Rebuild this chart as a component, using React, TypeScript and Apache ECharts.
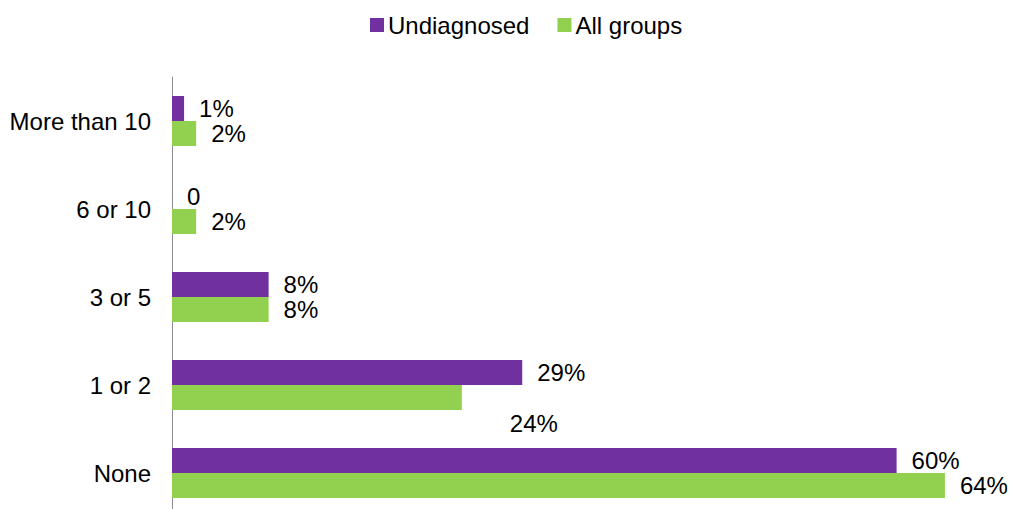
import React, { useEffect, useRef } from "react";
import * as echarts from "echarts";

const categories = ["More than 10", "6 or 10", "3 or 5", "1 or 2", "None"];
const undiagnosed = [1, 0, 8, 29, 60];
const allGroups = [2, 2, 8, 24, 64];
const seriesNames = ["Undiagnosed", "All groups"];

const FONT = "'Liberation Sans', Arial, sans-serif";
const FS = 24;

export default function App() {
  const ref = useRef<HTMLDivElement>(null);
  useEffect(() => {
    if (!ref.current) return;
    const chart = echarts.init(ref.current, undefined, { renderer: "svg" });
    const fmt = (p: any) => (p.value === 0 ? "0" : p.value + "%");
    const labelBase = {
      show: true,
      position: "right",
      distance: 15,
      formatter: fmt,
      color: "#000",
      fontSize: FS,
      fontFamily: FONT,
    };
    chart.setOption({
      animation: false,
      textStyle: { fontFamily: FONT },
      legend: {
        data: seriesNames,
        top: 8,
        left: 365,
        itemWidth: 14,
        itemHeight: 14,
        itemGap: 28,
        icon: "rect",
        textStyle: { fontSize: FS, color: "#000", fontFamily: FONT, padding: [0, 0, 0, -1] },
      },
      grid: { left: 172, top: 77, width: 785, height: 440, containLabel: false },
      xAxis: {
        type: "value",
        min: 0,
        max: 65,
        show: false,
        splitLine: { show: false },
      },
      yAxis: {
        type: "category",
        data: categories,
        inverse: true,
        axisLine: { show: true, lineStyle: { color: "#8c8c8c", width: 1 } },
        axisTick: { show: false },
        axisLabel: { fontSize: FS, color: "#000", fontFamily: FONT, margin: 21 },
      },
      series: [
        {
          name: seriesNames[0],
          type: "bar",
          data: undiagnosed,
          barWidth: 25,
          barGap: "0%",
          itemStyle: { color: "#7030A0" },
          label: labelBase,
        },
        {
          name: seriesNames[1],
          type: "bar",
          data: allGroups.map((v, i) =>
            categories[i] === "1 or 2" ? { value: v, label: { offset: [33, 26] } } : v
          ),
          barWidth: 25,
          barGap: "0%",
          itemStyle: { color: "#92D050" },
          label: labelBase,
        },
      ],
    });
    return () => chart.dispose();
  }, []);
  return (
    <div
      style={{
        position: "fixed",
        left: 0,
        top: 0,
        width: 1011,
        height: 509,
        overflow: "hidden",
        background: "#fff",
      }}
    >
      <div ref={ref} style={{ width: 1011, height: 530 }} />
    </div>
  );
}
